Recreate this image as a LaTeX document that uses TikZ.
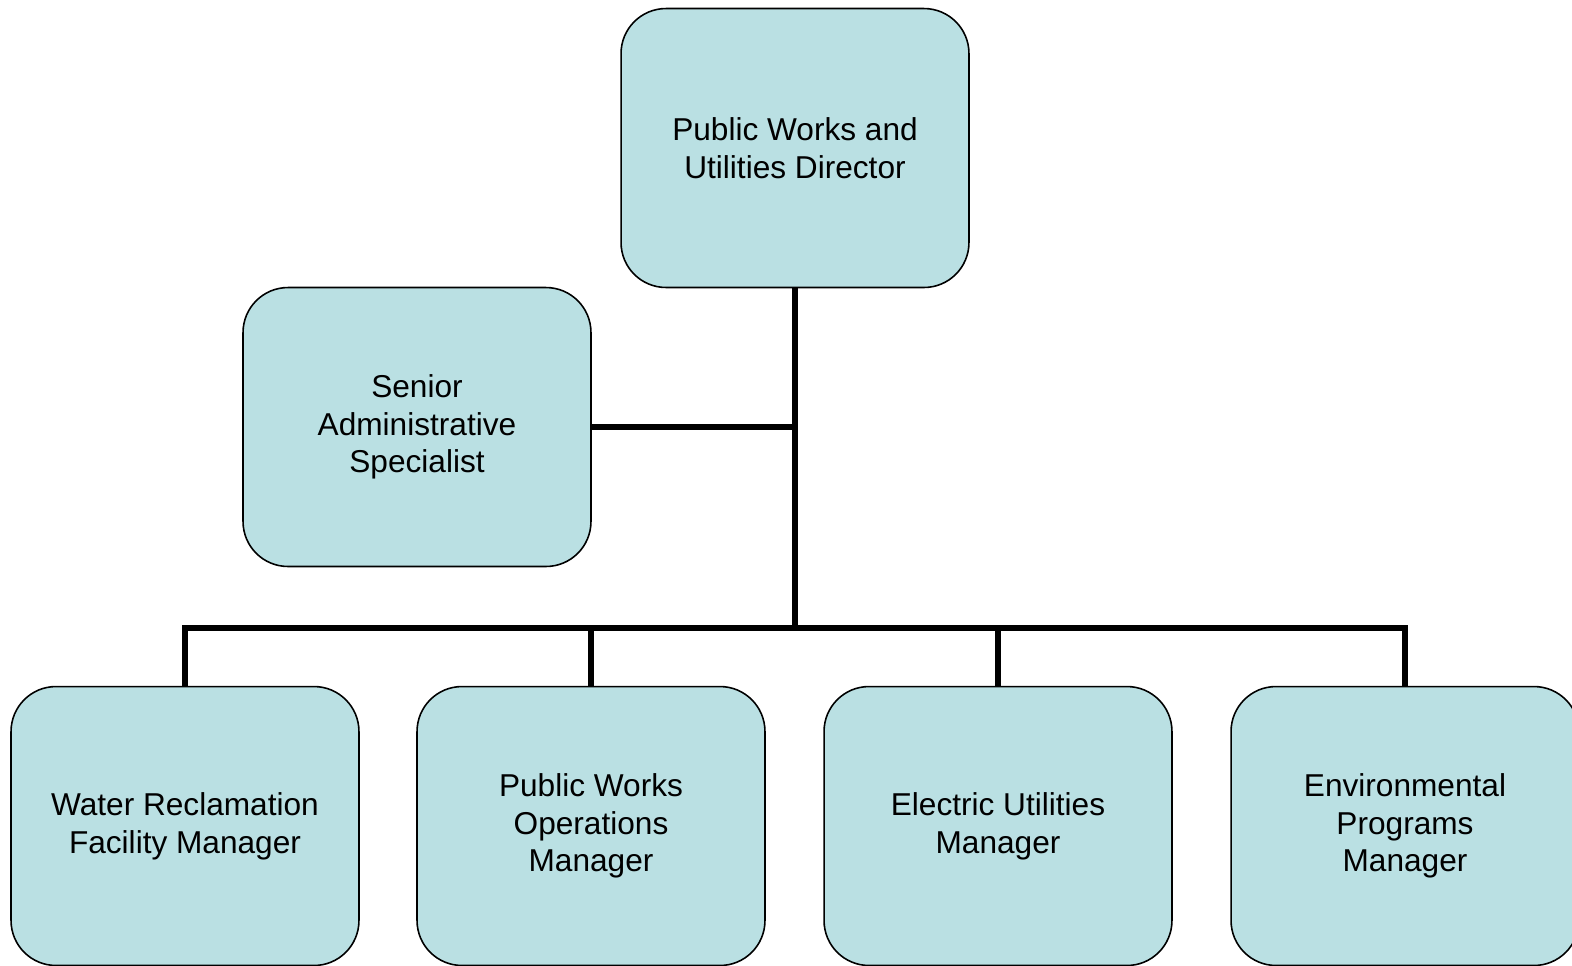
\documentclass[tikz,border=0pt]{standalone}
\usepackage{fontspec}
\setmainfont{Liberation Sans}
\definecolor{boxfill}{RGB}{186,224,227}
\tikzstyle{post}=[draw=black,fill=boxfill,line width=0.9pt,rounded corners=0.9cm,
  minimum width=6.96cm,minimum height=5.58cm,inner sep=0pt,align=center,
  font=\fontsize{18}{21.5}\selectfont]
\tikzstyle{edge} = [draw,line width=3.4pt,line join=miter,-]

\begin{document}
\begin{tikzpicture}[x=0.02cm,y=-0.02cm]
    \useasboundingbox (0,0) rectangle (1572,965);
    % First we draw the posts
    \node[post] (director) at (795,148) {Public Works and\\Utilities Director};
    \node[post] (senior) at (417,427) {Senior\\Administrative\\Specialist};
    \foreach \pos/\name/\la in {{(185,826)/water/Water Reclamation\\Facility Manager},
                                {(591,826)/works/Public Works\\Operations\\Manager},
                                {(998,826)/electric/Electric Utilities\\Manager},
                                {(1405,826)/environ/Environmental\\Programs\\Manager}}
        \node[post] (\name) at \pos {\la};
    \coordinate (hub) at (795,628);
    % Then we connect them with lines
    \path[edge] (director.south) -- (hub);
    \path[edge] (senior.east) -- (senior.east -| hub);
    \path[edge] (water.north) -- (water.north |- hub) -- (environ.north |- hub) -- (environ.north);
    \foreach \dest in {works,electric}
        \path[edge] (\dest.north) -- (\dest.north |- hub);
\end{tikzpicture}
\end{document}
